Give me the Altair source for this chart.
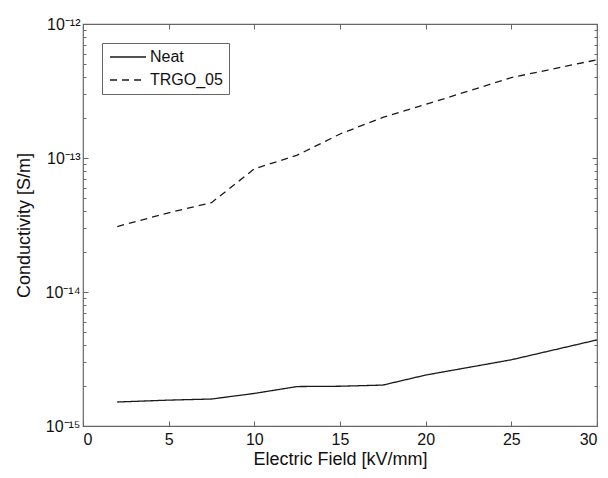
import altair as alt
import pandas as pd

# ---- data ----
field_kv = [2, 5, 7.5, 10, 12.5, 15, 17.5, 20, 25, 30]
neat = [1.51e-15, 1.56e-15, 1.59e-15, 1.75e-15, 1.97e-15, 1.98e-15, 2.02e-15, 2.40e-15, 3.12e-15, 4.39e-15]
trgo_05 = [3.08e-14, 3.90e-14, 4.64e-14, 8.30e-14, 1.05e-13, 1.51e-13, 2.01e-13, 2.51e-13, 3.98e-13, 5.41e-13]
series_names = ["Neat", "TRGO_05"]

x_ticks = [0, 5, 10, 15, 20, 25, 30]
y_major = [1e-15, 1e-14, 1e-13, 1e-12]
y_labels = ["10⁻¹⁵", "10⁻¹⁴", "10⁻¹³", "10⁻¹²"]
y_minor = [k * 10.0 ** e for e in (-15, -14, -13) for k in range(2, 10)]

df = pd.DataFrame({
    "field": field_kv + field_kv,
    "cond": neat + trgo_05,
    "series": [series_names[0]] * len(field_kv) + [series_names[1]] * len(field_kv),
})

label_expr = " : ".join(
    f"datum.value < {v * 3:g} ? '{lab}'" for v, lab in zip(y_major[:-1], y_labels[:-1])
) + f" : '{y_labels[-1]}'"

xs = alt.Scale(domain=[0, 30], nice=False, zero=False)
ys = alt.Scale(type="log", domain=[1e-15, 1e-12], nice=False)
FONT = "Liberation Sans"
TICK = "#666"
FRAME = "#666"

base = alt.Chart(df)

lines = base.mark_line(color="#1a1a1a", strokeWidth=1.3).encode(
    x=alt.X("field:Q", scale=xs, axis=alt.Axis(
        orient="bottom", values=x_ticks, offset=-5, tickSize=5, ticks=True, domain=False, grid=False,
        labelPadding=5, title="Electric Field [kV/mm]", titlePadding=3, format="d")),
    y=alt.Y("cond:Q", scale=ys, axis=alt.Axis(
        orient="left", values=y_major, labelExpr=label_expr, offset=-5, tickSize=5, ticks=True,
        domain=False, grid=False, labelPadding=3, title="Conductivity [S/m]", titlePadding=12)),
    strokeDash=alt.StrokeDash("series:N", scale=alt.Scale(domain=series_names, range=[[1, 0], [7, 5]]),
        legend=alt.Legend(title=None, orient="top-left", offset=19, strokeColor=FRAME,
                          fillColor="white", padding=6, symbolType="M-1,0H5", symbolSize=144,
                          symbolStrokeWidth=1.3, symbolStrokeColor="#1a1a1a",
                          symbolFillColor="transparent", labelFontSize=16,
                          labelFont=FONT, labelColor="#111", rowPadding=7, labelOffset=26,
                          cornerRadius=0)),
)

top_right = base.mark_point(opacity=0, size=1).encode(
    x=alt.X("field:Q", scale=xs, axis=alt.Axis(
        orient="top", values=x_ticks, offset=-5, tickSize=5, ticks=True, domain=False, grid=False,
        labels=False, title=None)),
    y=alt.Y("cond:Q", scale=ys, axis=alt.Axis(
        orient="right", values=y_major, offset=-5, tickSize=5, ticks=True, domain=False, grid=False,
        labels=False, title=None)),
)

minor_left = base.mark_point(opacity=0, size=1).encode(
    x=alt.X("field:Q", scale=xs, axis=None),
    y=alt.Y("cond:Q", scale=ys, axis=alt.Axis(
        orient="left", values=y_minor, offset=-3, tickSize=3, ticks=True, domain=False, grid=False,
        labels=False, title=None)),
)

minor_right = base.mark_point(opacity=0, size=1).encode(
    x=alt.X("field:Q", scale=xs, axis=None),
    y=alt.Y("cond:Q", scale=ys, axis=alt.Axis(
        orient="right", values=y_minor, offset=-3, tickSize=3, ticks=True, domain=False, grid=False,
        labels=False, title=None)),
)

chart = alt.layer(lines, top_right, minor_left, minor_right).resolve_axis(
    x="independent", y="independent"
).properties(
    width=514, height=402,
    padding={"left": 75, "top": 16, "right": 3, "bottom": 44},
    autosize=alt.AutoSizeParams(type="none"),
).configure_view(
    stroke=FRAME, strokeWidth=1.2
).configure_axis(
    labelFont=FONT, titleFont=FONT, labelFontSize=16, titleFontSize=18,
    labelColor="#111", titleColor="#111", titleFontWeight="normal",
    tickColor=TICK, tickWidth=1, tickOpacity=1,
)

chart.save("out.html", embed_options={"renderer": "svg", "actions": False})
